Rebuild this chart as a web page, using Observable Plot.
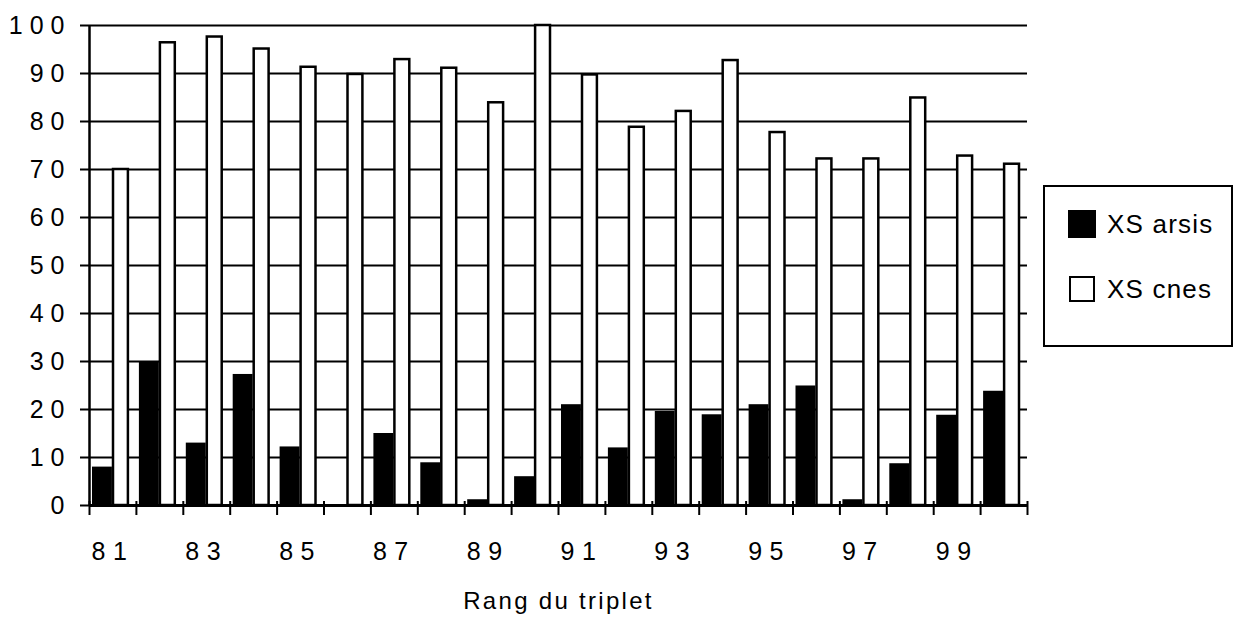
<!DOCTYPE html>
<html>
<head>
<meta charset="utf-8">
<script src="https://cdn.jsdelivr.net/npm/d3@7"></script>
<script src="https://cdn.jsdelivr.net/npm/@observablehq/plot@0.6"></script>
<style>
  body { margin: 0; background: #fff; font-family: "Liberation Sans", Arial, sans-serif; }
  #wrap { position: relative; width: 1235px; height: 627px; background: #fff; }
  #legend { position: absolute; left: 1043px; top: 185px; width: 190px; height: 162px; box-sizing: border-box; border: 2px solid #000; background: #fff; }
  .row { position: absolute; left: 23px; height: 30px; display: flex; align-items: center; font-size: 26px; letter-spacing: 1.2px; color: #000; white-space: nowrap; }
  .sw { box-sizing: border-box; margin-right: 11px; }
  g[aria-label="y-axis tick label"] text { letter-spacing: 7px; font-size: 25px; }
  g[aria-label="x-axis tick label"] text { letter-spacing: 7.5px; font-size: 25px; }
  g[aria-label="text"] text { letter-spacing: 2.3px; }
</style>
</head>
<body>
<div id="wrap"></div>
<script>
const categories = [81, 82, 83, 84, 85, 86, 87, 88, 89, 90, 91, 92, 93, 94, 95, 96, 97, 98, 99, 100];
const arsis = [8, 30, 13, 27.3, 12.2, 0, 15, 8.9, 1.2, 6, 21, 12, 19.6, 18.9, 21, 24.9, 1.2, 8.7, 18.8, 23.8];
const cnes = [70, 96.4, 97.6, 95.1, 91.3, 89.8, 92.9, 91.1, 83.9, 100, 89.7, 78.8, 82.1, 92.7, 77.7, 72.2, 72.2, 84.9, 72.8, 71.1];
const yTicks = [0, 10, 20, 30, 40, 50, 60, 70, 80, 90, 100];
const xTickLabels = [81, 83, 85, 87, 89, 91, 93, 95, 97, 99];
const xLabel = "Rang du triplet";
const seriesNames = ["XS arsis", "XS cnes"];

const arsisData = categories.map((c, i) => ({cat: c, v: arsis[i]}));
const cnesData = categories.map((c, i) => ({cat: c, v: cnes[i]}));
const boundaries = categories.concat([categories[categories.length - 1] + 1]);

const plot = Plot.plot({
  width: 1235,
  height: 627,
  marginLeft: 89,
  marginRight: 208,
  marginTop: 25,
  marginBottom: 122,
  x: {type: "linear", domain: [categories[0], categories[categories.length - 1] + 1]},
  y: {domain: [0, 100]},
  style: {fontFamily: "'Liberation Sans', Arial, sans-serif", background: "white", color: "black"},
  marks: [
    Plot.ruleY(yTicks, {stroke: "black", strokeWidth: 2}),
    Plot.rectY(arsisData.filter(d => d.v > 0), {x1: "cat", x2: d => d.cat + 1, y: "v", fill: "black", insetLeft: 3, insetRight: 24}),
    Plot.rectY(cnesData, {x1: "cat", x2: d => d.cat + 1, y: "v", fill: "white", stroke: "black", strokeWidth: 2.5, insetLeft: 24, insetRight: 8}),
    Plot.ruleX([categories[0]], {stroke: "black", strokeWidth: 2.5}),
    Plot.ruleY([0], {stroke: "black", strokeWidth: 3}),
    Plot.axisY({ticks: yTicks, tickSize: 9, tickPadding: 9, fontSize: 25, strokeWidth: 2, label: null}),
    Plot.axisX({ticks: boundaries, tickSize: 14, dy: -4, strokeWidth: 2, tickFormat: () => "", label: null}),
    Plot.axisX({ticks: xTickLabels.map(c => c + 0.5), tickSize: 0, tickPadding: 37, fontSize: 25, tickFormat: d => String(d - 0.5), label: null}),
    Plot.text([xLabel], {frameAnchor: "bottom", dy: 103, fontSize: 24, fill: "black"})
  ]
});

const wrap = document.getElementById("wrap");
wrap.appendChild(plot);

const legend = document.createElement("div");
legend.id = "legend";
legend.innerHTML = `
  <div class="row" style="top:22px"><div class="sw" style="width:28px;height:28px;background:#000"></div><span>${seriesNames[0]}</span></div>
  <div class="row" style="top:87px"><div class="sw" style="width:26px;height:26px;background:#fff;border:2px solid #000;margin-left:1px;margin-right:12px"></div><span>${seriesNames[1]}</span></div>`;
wrap.appendChild(legend);
</script>
</body>
</html>
